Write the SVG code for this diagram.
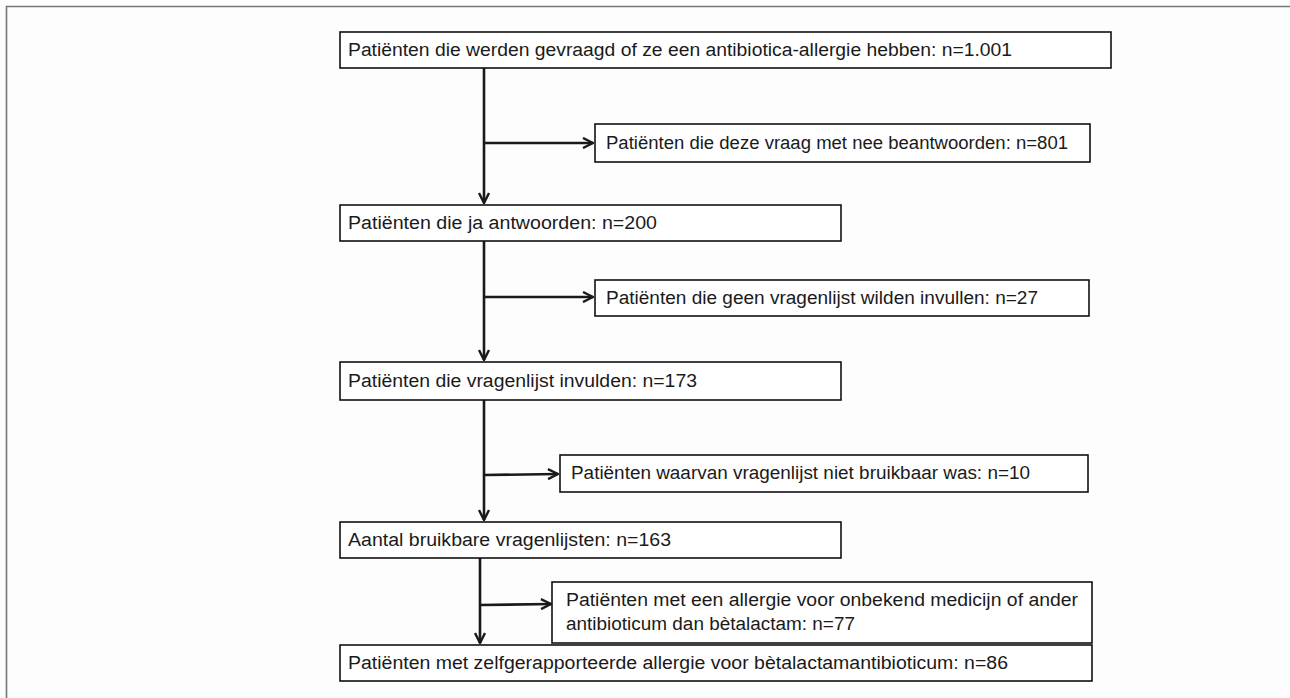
<svg xmlns="http://www.w3.org/2000/svg" width="1290" height="698" viewBox="0 0 1290 698">
<defs>
<style>
.box{fill:#fff;stroke:#111;stroke-width:1.6}
.t{font-family:"Liberation Sans",Arial,sans-serif;font-size:18px;fill:#1a1a1a}
.c{stroke:#1a1a1a;stroke-width:2.6;fill:none}
</style>
<marker id="ah" viewBox="0 0 12 12" refX="11" refY="6" markerWidth="12" markerHeight="12" markerUnits="userSpaceOnUse" orient="auto">
<path d="M1,1 L11,6 L1,11" fill="none" stroke="#1a1a1a" stroke-width="2.4"/>
</marker>
</defs>
<rect width="1290" height="698" fill="#fdfdfd"/>
<path d="M6.5,698 V6.5 H1290" fill="none" stroke="#777" stroke-width="1.6"/>
<g id="connectors">
<line class="c" x1="484" y1="68" x2="484" y2="203" marker-end="url(#ah)"/>
<line class="c" x1="484" y1="143" x2="593" y2="143" marker-end="url(#ah)"/>
<line class="c" x1="484" y1="241" x2="484" y2="360" marker-end="url(#ah)"/>
<line class="c" x1="484" y1="297" x2="593" y2="297" marker-end="url(#ah)"/>
<line class="c" x1="484" y1="400" x2="484" y2="520" marker-end="url(#ah)"/>
<line class="c" x1="484" y1="475" x2="558" y2="474" marker-end="url(#ah)"/>
<line class="c" x1="480" y1="558" x2="480" y2="643" marker-end="url(#ah)"/>
<line class="c" x1="480" y1="605" x2="551" y2="604" marker-end="url(#ah)"/>
</g>
<g id="n1"><rect class="box" x="340" y="32" width="771" height="36"/><text class="t" x="348" y="56" textLength="664" lengthAdjust="spacingAndGlyphs">Patiënten die werden gevraagd of ze een antibiotica-allergie hebben: n=1.001</text></g>
<g id="n2"><rect class="box" x="595" y="124" width="495" height="38"/><text class="t" x="606" y="149" textLength="462" lengthAdjust="spacingAndGlyphs">Patiënten die deze vraag met nee beantwoorden: n=801</text></g>
<g id="n3"><rect class="box" x="340" y="205" width="501" height="36"/><text class="t" x="348" y="229" textLength="309" lengthAdjust="spacingAndGlyphs">Patiënten die ja antwoorden: n=200</text></g>
<g id="n4"><rect class="box" x="595" y="280" width="494" height="36"/><text class="t" x="606" y="304" textLength="432" lengthAdjust="spacingAndGlyphs">Patiënten die geen vragenlijst wilden invullen: n=27</text></g>
<g id="n5"><rect class="box" x="340" y="362" width="501" height="38"/><text class="t" x="348" y="387" textLength="349" lengthAdjust="spacingAndGlyphs">Patiënten die vragenlijst invulden: n=173</text></g>
<g id="n6"><rect class="box" x="560" y="455" width="528" height="37"/><text class="t" x="571" y="479" textLength="459" lengthAdjust="spacingAndGlyphs">Patiënten waarvan vragenlijst niet bruikbaar was: n=10</text></g>
<g id="n7"><rect class="box" x="340" y="522" width="501" height="36"/><text class="t" x="348" y="546" textLength="323" lengthAdjust="spacingAndGlyphs">Aantal bruikbare vragenlijsten: n=163</text></g>
<g id="n8"><rect class="box" x="552" y="582" width="540" height="61"/><text class="t" x="566" y="606" textLength="512" lengthAdjust="spacingAndGlyphs">Patiënten met een allergie voor onbekend medicijn of ander</text><text class="t" x="566" y="630" textLength="289" lengthAdjust="spacingAndGlyphs">antibioticum dan bètalactam: n=77</text></g>
<g id="n9"><rect class="box" x="340" y="645" width="752" height="36"/><text class="t" x="348" y="669" textLength="660" lengthAdjust="spacingAndGlyphs">Patiënten met zelfgerapporteerde allergie voor bètalactamantibioticum: n=86</text></g>
</svg>
